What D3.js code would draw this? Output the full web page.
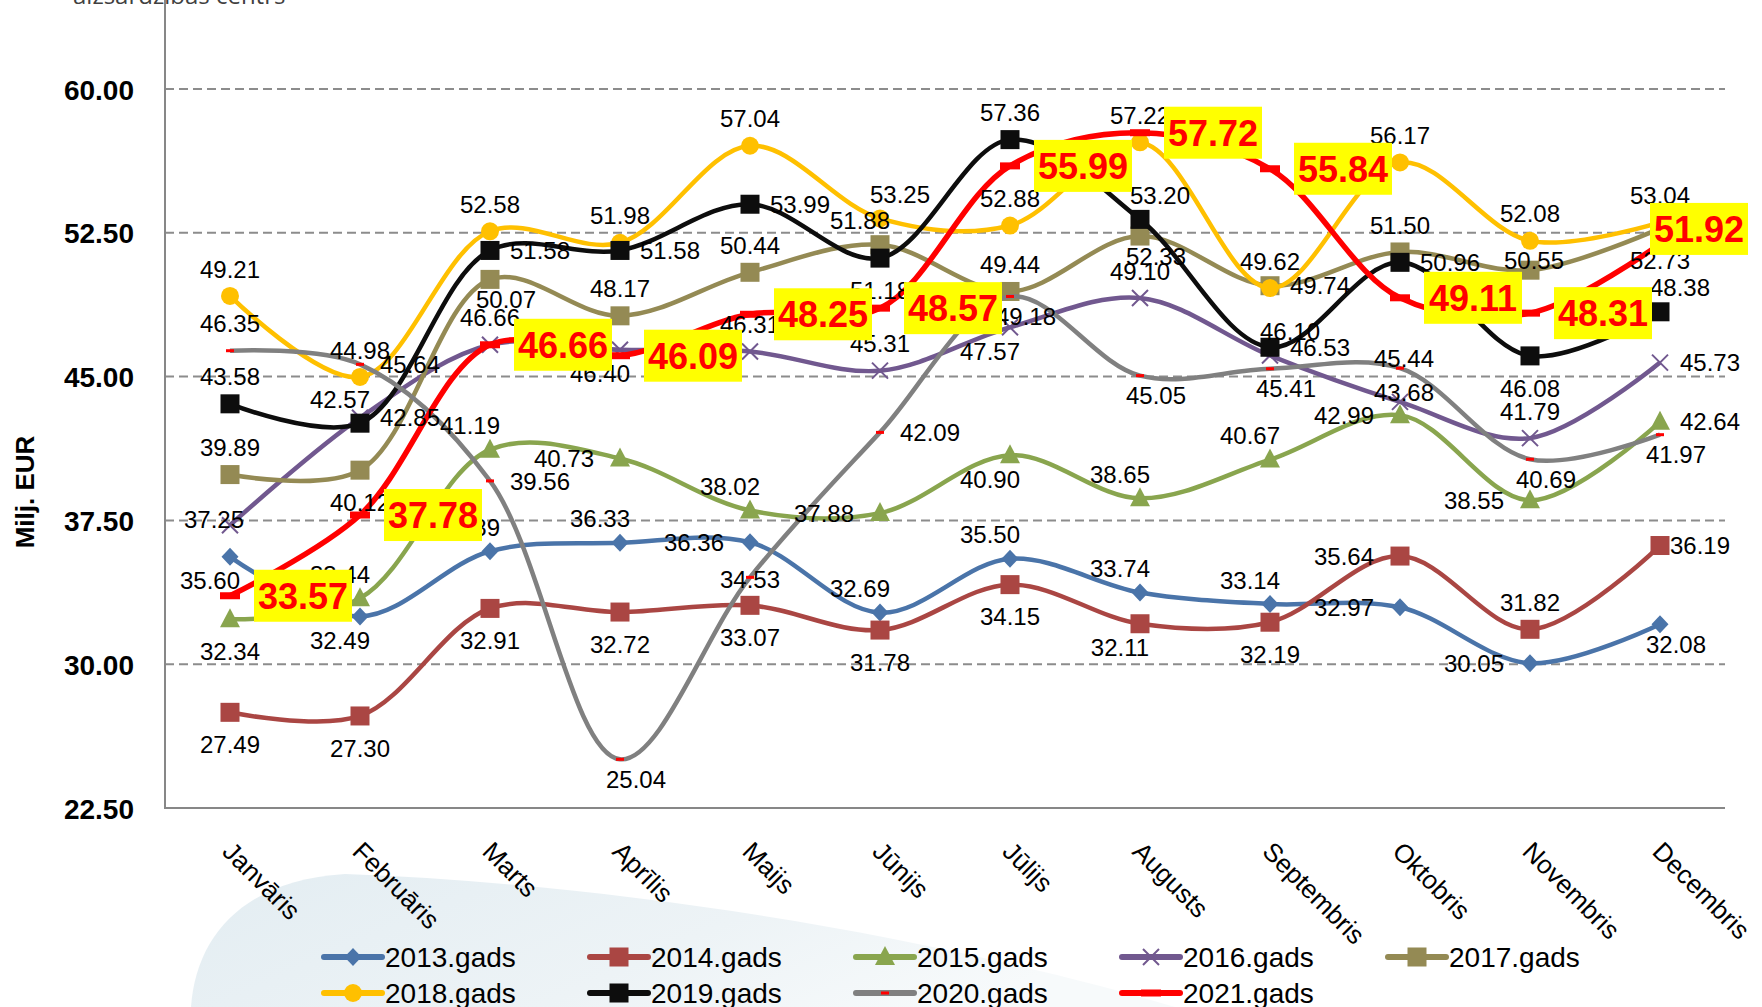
<!DOCTYPE html>
<html>
<head>
<meta charset="utf-8">
<script src="https://cdn.jsdelivr.net/npm/d3@7"></script>
<style>
  html, body { margin: 0; padding: 0; background: #fff; overflow: hidden; }
  text { font-family: 'Liberation Sans', Arial, sans-serif; }
</style>
</head>
<body>
<svg id="chart" width="1762" height="1007"></svg>
<script>
// months and series names
const months = ['Janvāris', 'Februāris', 'Marts', 'Aprīlis', 'Maijs', 'Jūnijs',
  'Jūlijs', 'Augusts', 'Septembris', 'Oktobris', 'Novembris', 'Decembris'];
const years = ['2013.gads', '2014.gads', '2015.gads', '2016.gads', '2017.gads',
  '2018.gads', '2019.gads', '2020.gads', '2021.gads'];

// values, milj. EUR
const v2013 = [35.60, 32.49, 35.89, 36.33, 36.36, 32.69, 35.50, 33.74, 33.14, 32.97, 30.05, 32.08];
const v2014 = [27.49, 27.30, 32.91, 32.72, 33.07, 31.78, 34.15, 32.11, 32.19, 35.64, 31.82, 36.19];
const v2015 = [32.34, 33.44, 41.19, 40.73, 38.02, 37.88, 40.90, 38.65, 40.67, 42.99, 38.55, 42.64];
const v2016 = [37.25, 42.85, 46.66, 46.40, 46.31, 45.31, 47.57, 49.10, 46.10, 43.68, 41.79, 45.73];
const v2017 = [39.89, 40.12, 50.07, 48.17, 50.44, 51.88, 49.44, 52.33, 49.74, 51.50, 50.55, 52.73];
const v2018 = [49.21, 44.98, 52.58, 51.98, 57.04, 53.25, 52.88, 57.22, 49.62, 56.17, 52.08, 53.04];
const v2019 = [43.58, 42.57, 51.58, 51.58, 53.99, 51.18, 57.36, 53.20, 46.53, 50.96, 46.08, 48.38];
const v2020 = [46.35, 45.64, 39.56, 25.04, 34.53, 42.09, 49.18, 45.05, 45.41, 45.44, 40.69, 41.97];
const v2021 = [33.57, 37.78, 46.66, 46.09, 48.25, 48.57, 55.99, 57.72, 55.84, 49.11, 48.31, 51.92];

const yTicks = [22.5, 30, 37.5, 45, 52.5, 60];

// where each data label sits relative to its point (a=above, b=below, l=left, r=right ...)
const lp2013 = ['bl', 'bl', 'al', 'al', 'l', 'al', 'al', 'al', 'al', 'l', 'l', 'br'];
const lp2014 = ['b', 'b', 'b', 'b', 'b', 'b', 'b', 'bl', 'b', 'l', 'a', 'rn'];
const lp2015 = ['b', 'al', 'al', 'l', 'al', 'l', 'bl', 'al', 'al', 'l', 'l', 'r'];
const lp2016 = ['cl', 'r', 'a', 'bl', 'a', 'a', 'bl', 'a', 'ar', 'ca', 'a', 'r'];
const lp2017 = ['a', 'b', 'br', 'a', 'a', 'al', 'a', 'br', 'r', 'a', 'ca', 'b'];
const lp2018 = ['a', 'a', 'a', 'a', 'a', 'ar', 'a', 'a', 'a', 'a', 'a', 'a'];
const lp2019 = ['a', 'al', 'r', 'r', 'r', 'b', 'a', 'ar', 'r', 'r', 'b', 'ar'];
const lp2020 = ['a', 'r', 'r', 'br', 'c', 'r', 'br', 'br', 'br', 'ca', 'br', 'br'];

const offs = {
  a: [0, -27], b: [0, 32], l: [-56, 0], r: [50, 0], rn: [40, 0], c: [0, 2],
  al: [-20, -24], ar: [20, -24], bl: [-20, 24], br: [16, 20],
  cl: [-16, -6], ca: [4, -10]
};

const series = [
  { name: years[0], values: v2013, color: '#4A74A9', marker: 'diamond', lp: lp2013 },
  { name: years[1], values: v2014, color: '#AA4643', marker: 'square', lp: lp2014 },
  { name: years[2], values: v2015, color: '#89A54E', marker: 'triangle', lp: lp2015 },
  { name: years[3], values: v2016, color: '#71588F', marker: 'cross', lp: lp2016 },
  { name: years[4], values: v2017, color: '#948A54', marker: 'square', lp: lp2017 },
  { name: years[5], values: v2018, color: '#FFC000', marker: 'circle', lp: lp2018 },
  { name: years[6], values: v2019, color: '#0D0D0D', marker: 'square', lp: lp2019 },
  { name: years[7], values: v2020, color: '#808080', marker: 'dash', lp: lp2020 },
  { name: years[8], values: v2021, color: '#FF0000', marker: 'bar', lp: null }
];

const W = 1762, H = 1007;
const svg = d3.select('#chart');

const defs = svg.append('defs');
const grad = defs.append('linearGradient').attr('id', 'swoosh')
  .attr('x1', '0').attr('y1', '0').attr('x2', '1').attr('y2', '0.3');
grad.append('stop').attr('offset', '0').attr('stop-color', '#E3EDF2');
grad.append('stop').attr('offset', '0.6').attr('stop-color', '#EDF3F6');
grad.append('stop').attr('offset', '1').attr('stop-color', '#F7FAFB');

// decorative background shape at the bottom
svg.append('path')
  .attr('d', 'M191,1007 C196,935 245,880 345,874 C620,884 930,935 1175,1007 Z')
  .attr('fill', 'url(#swoosh)');

// cut-off source note at the very top
svg.append('text')
  .attr('x', 73).attr('y', 4)
  .style('font-family', "'Open Sans', sans-serif")
  .style('font-size', '24px')
  .attr('fill', '#404040')
  .text('aizsardzības centrs');

const x = d3.scaleBand().domain(months).range([165, 1725]);
const y = d3.scaleLinear().domain([22.5, 60]).range([808, 89]);
const cx = i => x(months[i]) + x.bandwidth() / 2;

// gridlines
svg.append('g').selectAll('line')
  .data(yTicks.filter(d => d > 22.5))
  .join('line')
  .attr('x1', 165).attr('x2', 1725)
  .attr('y1', d => y(d)).attr('y2', d => y(d))
  .attr('stroke', '#8C8C8C').attr('stroke-width', 2)
  .attr('stroke-dasharray', '9,5');

// axis lines
svg.append('line').attr('x1', 165).attr('x2', 165).attr('y1', 0).attr('y2', 809)
  .attr('stroke', '#878787').attr('stroke-width', 2);
svg.append('line').attr('x1', 164).attr('x2', 1725).attr('y1', 808).attr('y2', 808)
  .attr('stroke', '#878787').attr('stroke-width', 2);

// y axis labels
const yAxis = svg.append('g').attr('transform', 'translate(165,0)')
  .call(d3.axisLeft(y).tickValues(yTicks).tickSize(0).tickPadding(31).tickFormat(d3.format('.2f')));
yAxis.select('.domain').remove();
yAxis.selectAll('text')
  .style('font-size', '28px').style('font-weight', 'bold')
  .style('font-family', "'Liberation Sans', Arial, sans-serif")
  .attr('fill', '#000').attr('dy', '0.36em');

svg.append('text')
  .attr('transform', 'translate(34,492) rotate(-90)')
  .attr('text-anchor', 'middle')
  .style('font-size', '26px').style('font-weight', 'bold')
  .text('Milj. EUR');

// x axis labels (rotated)
const xAxis = svg.append('g').attr('transform', 'translate(0,808)')
  .call(d3.axisBottom(x).tickSize(0));
xAxis.select('.domain').remove();
xAxis.selectAll('text')
  .attr('x', 0).attr('y', 0).attr('dy', 0)
  .attr('text-anchor', 'start')
  .attr('transform', 'translate(-9,45) rotate(45)')
  .style('font-size', '26px')
  .style('font-family', "'Liberation Sans', Arial, sans-serif")
  .attr('fill', '#000');

function drawMarker(g, type, color, px, py) {
  if (type === 'diamond') {
    g.append('path').attr('d', `M${px},${py - 9}L${px + 8.5},${py}L${px},${py + 9}L${px - 8.5},${py}Z`)
      .attr('fill', color);
  } else if (type === 'square') {
    g.append('rect').attr('x', px - 9.5).attr('y', py - 9.5).attr('width', 19).attr('height', 19)
      .attr('fill', color);
  } else if (type === 'triangle') {
    g.append('path').attr('d', `M${px},${py - 11}L${px + 10},${py + 8}L${px - 10},${py + 8}Z`)
      .attr('fill', color);
  } else if (type === 'cross') {
    g.append('path').attr('d', `M${px - 8},${py - 8}L${px + 8},${py + 8}M${px + 8},${py - 8}L${px - 8},${py + 8}`)
      .attr('stroke', color).attr('stroke-width', 2).attr('fill', 'none');
  } else if (type === 'circle') {
    g.append('circle').attr('cx', px).attr('cy', py).attr('r', 9).attr('fill', color);
  } else if (type === 'dash') {
    g.append('rect').attr('x', px - 4).attr('y', py - 1.5).attr('width', 8).attr('height', 3)
      .attr('fill', '#FF0000');
  } else if (type === 'bar') {
    g.append('rect').attr('x', px - 10).attr('y', py - 3.5).attr('width', 20).attr('height', 7)
      .attr('fill', '#FF0000');
  }
}

const line = d3.line()
  .x((d, i) => cx(i))
  .y(d => y(d))
  .curve(d3.curveCatmullRom.alpha(0.5));

// lines and markers
series.forEach(s => {
  const g = svg.append('g');
  g.append('path')
    .attr('d', line(s.values))
    .attr('fill', 'none')
    .attr('stroke', s.color)
    .attr('stroke-width', s.name === '2021.gads' ? 5.5 : 4.5)
    .attr('stroke-linejoin', 'round');
  s.values.forEach((v, i) => drawMarker(g, s.marker, s.color, cx(i), y(v)));
});

// data labels
const fmt = d3.format('.2f');
const labels = svg.append('g');
series.filter(s => s.lp).forEach(s => {
  labels.selectAll(null)
    .data(s.values)
    .join('text')
    .attr('x', (d, i) => cx(i) + offs[s.lp[i]][0])
    .attr('y', (d, i) => y(d) + offs[s.lp[i]][1])
    .attr('dy', '0.36em')
    .attr('text-anchor', 'middle')
    .style('font-size', '24px')
    .attr('fill', '#000')
    .text(d => fmt(d));
});

// highlighted 2021 labels
const bw = 98, bh = 52;
const hl = svg.append('g');
v2021.forEach((v, i) => {
  let left = cx(i) + 24;
  let cy = y(v);
  if (left + bw > W - 14) { left = W - 14 - bw; cy -= 15; }
  hl.append('rect').attr('x', left).attr('y', cy - bh / 2).attr('width', bw).attr('height', bh)
    .attr('fill', '#FFFF00');
  hl.append('text').attr('x', left + bw / 2).attr('y', cy + 13)
    .attr('text-anchor', 'middle')
    .style('font-size', '36px').style('font-weight', 'bold')
    .attr('fill', '#FF0000')
    .text(fmt(v));
});

// legend
const legend = svg.append('g');
series.forEach((s, k) => {
  const lx = 324 + (k % 5) * 266;
  const ly = 957 + Math.floor(k / 5) * 36;
  const g = legend.append('g');
  g.append('line').attr('x1', lx).attr('x2', lx + 58).attr('y1', ly).attr('y2', ly)
    .attr('stroke', s.color).attr('stroke-width', 6).attr('stroke-linecap', 'round');
  drawMarker(g, s.marker, s.color, lx + 29, ly);
  g.append('text').attr('x', lx + 61).attr('y', ly).attr('dy', '0.36em')
    .style('font-size', '28px').attr('fill', '#000')
    .text(s.name);
});
</script>
</body>
</html>
